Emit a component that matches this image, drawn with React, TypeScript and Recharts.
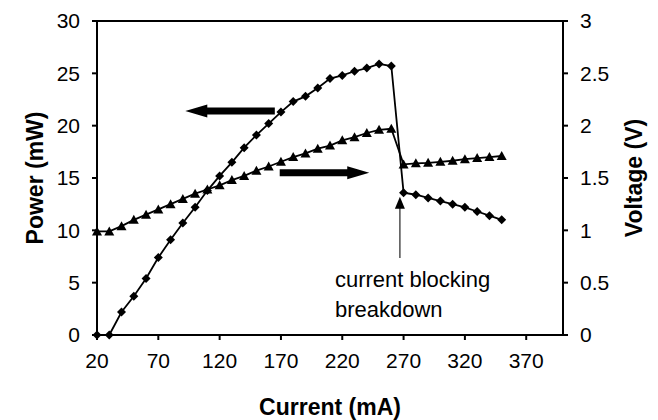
import React from 'react';
import { LineChart, Line, XAxis, YAxis, ReferenceLine, Label } from 'recharts';

// drive current (mA)
const current = [20, 30, 40, 50, 60, 70, 80, 90, 100, 110, 120, 130, 140, 150, 160, 170, 180, 190, 200, 210, 220, 230, 240, 250, 260, 270, 280, 290, 300, 310, 320, 330, 340, 350];
// optical power (mW), left axis
const power = [0, 0, 2.2, 3.7, 5.4, 7.4, 9.1, 10.7, 12.2, 13.8, 15.2, 16.5, 17.9, 19.1, 20.2, 21.3, 22.3, 22.8, 23.6, 24.5, 24.8, 25.2, 25.5, 25.9, 25.7, 13.6, 13.4, 13.1, 12.8, 12.5, 12.2, 11.8, 11.4, 11.0];
// voltage (V), right axis
const voltage = [0.99, 0.99, 1.04, 1.1, 1.15, 1.2, 1.25, 1.3, 1.35, 1.39, 1.43, 1.48, 1.52, 1.57, 1.61, 1.655, 1.7, 1.735, 1.78, 1.81, 1.86, 1.89, 1.93, 1.96, 1.97, 1.63, 1.64, 1.645, 1.655, 1.665, 1.68, 1.69, 1.7, 1.71];

const xTicks = [20, 70, 120, 170, 220, 270, 320, 370];
const powerTicks = [0, 5, 10, 15, 20, 25, 30];
const voltageTicks = [0, 0.5, 1, 1.5, 2, 2.5, 3];

const FONT = '"Liberation Sans", Arial, sans-serif';

const data = current.map((c, i) => ({ current: c, power: power[i], voltage: voltage[i] }));

const Diamond = (props: any) => {
  const { cx, cy } = props;
  if (cx == null || cy == null) return null;
  const r = 4.5;
  return <polygon points={`${cx},${cy - r} ${cx + r},${cy} ${cx},${cy + r} ${cx - r},${cy}`} fill="#000" />;
};

const Triangle = (props: any) => {
  const { cx, cy } = props;
  if (cx == null || cy == null) return null;
  return <polygon points={`${cx},${cy - 5} ${cx + 5},${cy + 4} ${cx - 5},${cy + 4}`} fill="#000" />;
};

// thick horizontal block arrow, tip at (x2, y2)
const BlockArrow = (props: any) => {
  const { x1, y1, x2 } = props;
  if (x1 == null) return null;
  const dir = x2 > x1 ? 1 : -1;
  const head = 22;
  const hw = 6.5;
  const sw = 3.5;
  const hb = x2 - dir * head;
  const pts = [
    [x1, y1 - sw], [hb, y1 - sw], [hb, y1 - hw], [x2, y1],
    [hb, y1 + hw], [hb, y1 + sw], [x1, y1 + sw],
  ].map(p => p.join(',')).join(' ');
  return <polygon points={pts} fill="#000" />;
};

// thin pointer arrow with the annotation under it
const Pointer = (props: any) => {
  const { x1, y1, y2 } = props;
  if (x1 == null) return null;
  const top = Math.min(y1, y2);
  const bottom = Math.max(y1, y2);
  return (
    <g>
      <line x1={x1} y1={bottom} x2={x1} y2={top + 11} stroke="#333" strokeWidth={1.3} />
      <polygon points={`${x1},${top} ${x1 + 5},${top + 12} ${x1 - 5},${top + 12}`} fill="#000" />
      <text x={x1 - 65} y={bottom + 29} fontSize={22} fontFamily={FONT} fill="#000">current blocking</text>
      <text x={x1 - 65} y={bottom + 59} fontSize={22} fontFamily={FONT} fill="#000">breakdown</text>
    </g>
  );
};

export default function App() {
  return (
    <div style={{ position: 'absolute', left: 0, top: 0, background: '#fff' }}>
      <LineChart width={658} height={420} data={data} margin={{ top: 21, right: 0, bottom: 0, left: 0 }}>
        <XAxis
          dataKey="current"
          type="number"
          domain={[20, 400]}
          ticks={xTicks}
          height={85}
          stroke="#000"
          strokeWidth={2}
          tickSize={5}
          tickMargin={13}
          tick={{ fill: '#000', fontSize: 21, fontFamily: FONT }}
        >
          <Label
            content={(p: any) => {
              const vb = p.viewBox;
              return (
                <text x={vb.x + vb.width / 2} y={415} textAnchor="middle" fontSize={23} fontWeight="bold" fontFamily={FONT} fill="#000">
                  Current (mA)
                </text>
              );
            }}
          />
        </XAxis>
        <YAxis
          yAxisId="left"
          domain={[0, 30]}
          ticks={powerTicks}
          width={97}
          stroke="#000"
          strokeWidth={2}
          tickSize={5}
          tickMargin={12}
          tick={{ fill: '#000', fontSize: 21, fontFamily: FONT }}
        >
          <Label
            content={(p: any) => {
              const vb = p.viewBox;
              const cy = vb.y + vb.height / 2;
              return (
                <text x={35} y={cy} dy="0.36em" transform={`rotate(-90, 35, ${cy})`} textAnchor="middle" fontSize={23} fontWeight="bold" fontFamily={FONT} fill="#000">
                  Power (mW)
                </text>
              );
            }}
          />
        </YAxis>
        <YAxis
          yAxisId="right"
          orientation="right"
          domain={[0, 3]}
          ticks={voltageTicks}
          width={95}
          stroke="#000"
          strokeWidth={2}
          tickSize={5}
          tickMargin={12}
          tick={{ fill: '#000', fontSize: 21, fontFamily: FONT }}
        >
          <Label
            content={(p: any) => {
              const vb = p.viewBox;
              const cy = vb.y + vb.height / 2;
              return (
                <text x={634} y={cy} dy="0.36em" transform={`rotate(-90, 634, ${cy})`} textAnchor="middle" fontSize={23} fontWeight="bold" fontFamily={FONT} fill="#000">
                  Voltage (V)
                </text>
              );
            }}
          />
        </YAxis>
        <ReferenceLine yAxisId="left" y={30} stroke="#000" strokeWidth={2} />
        <Line
          yAxisId="left"
          dataKey="power"
          stroke="#000"
          strokeWidth={1.8}
          dot={<Diamond />}
          activeDot={false}
          isAnimationActive={false}
        />
        <Line
          yAxisId="right"
          dataKey="voltage"
          stroke="#000"
          strokeWidth={1.8}
          dot={<Triangle />}
          activeDot={false}
          isAnimationActive={false}
        />
        <ReferenceLine
          yAxisId="left"
          segment={[{ x: 165, y: 21.4 }, { x: 92, y: 21.4 }]}
          shape={(p: any) => <BlockArrow {...p} />}
        />
        <ReferenceLine
          yAxisId="left"
          segment={[{ x: 169, y: 15.5 }, { x: 242, y: 15.5 }]}
          shape={(p: any) => <BlockArrow {...p} />}
        />
        <ReferenceLine
          yAxisId="left"
          segment={[{ x: 267, y: 7.35 }, { x: 267, y: 13.2 }]}
          shape={(p: any) => <Pointer {...p} />}
        />
      </LineChart>
    </div>
  );
}
